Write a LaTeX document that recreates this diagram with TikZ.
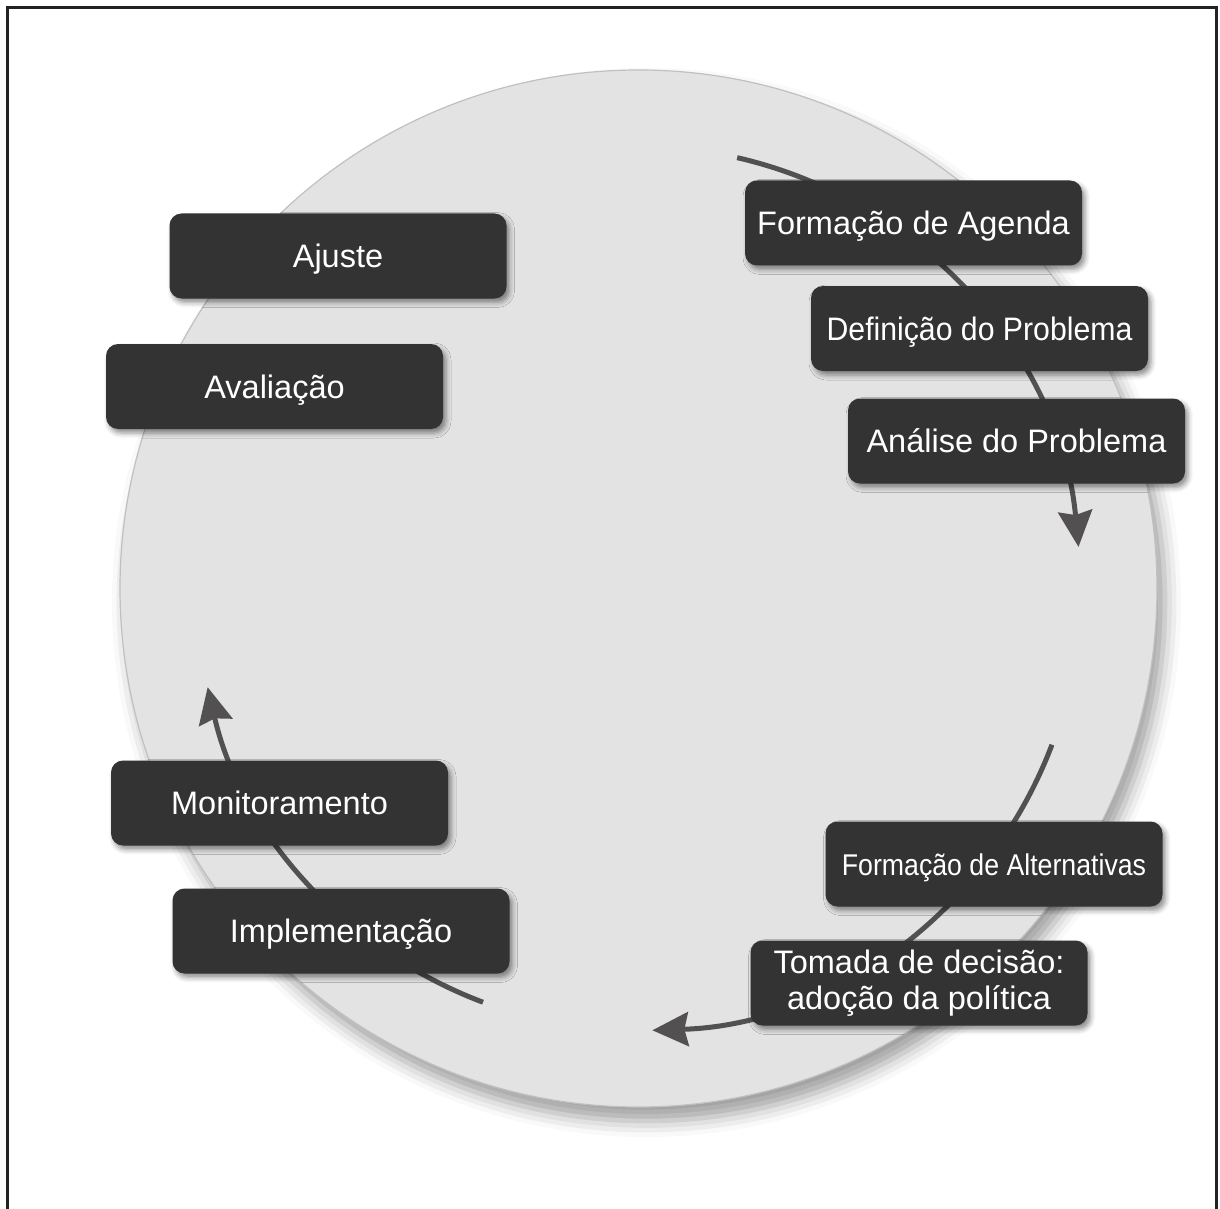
\documentclass[tikz,border=0pt]{standalone}
\usepackage{fontspec}
\setmainfont{Liberation Sans}
\usepackage{graphicx}
\usetikzlibrary{arrows.meta,shadows.blur,calc}

\definecolor{diskfill}{RGB}{227,227,227}
\definecolor{diskline}{RGB}{192,192,192}
\definecolor{boxfill}{RGB}{51,51,51}
\definecolor{flowgray}{RGB}{82,80,80}
\definecolor{framegray}{RGB}{35,35,35}

\begin{document}
\begin{tikzpicture}[x=0.5pt,y=-0.5pt,
  stage/.style={rectangle, rounded corners=6pt, fill=boxfill, text=white,
    minimum width=168.5pt, minimum height=42.5pt, inner sep=0pt, align=center,
    font=\fontsize{16.25}{18}\selectfont,
    blur shadow={shadow xshift=1.5pt, shadow yshift=-2pt,
      shadow blur radius=2.5pt, shadow opacity=45}},
  oneline/.style={stage, text height=11.6pt, text depth=0pt},
  flow/.style={draw=flowgray, line width=2.5pt,
    -{Stealth[length=18pt,width=17pt,inset=2pt]}}
]
\useasboundingbox (0,0) rectangle (1220,1209);
\clip (0,0) rectangle (1220,1209);

% outer frame (open at the bottom)
\draw[framegray, line width=1.5pt] (7,1240) -- (7,8) -- (1216,8) -- (1216,1240);

% background disk
\node (disk) [circle, fill=diskfill, draw=diskline, line width=0.6pt,
  minimum size=518.5pt, inner sep=0pt,
  blur shadow={shadow xshift=4pt, shadow yshift=-7pt,
    shadow blur radius=8pt, shadow opacity=38}] at (638.5,588.5) {};

% cycle arcs
\coordinate (flowA) at ($(disk.center)+(-77.1:442)$);
\coordinate (flowB) at ($(disk.center)+(20.7:442)$);
\coordinate (flowC) at ($(disk.center)+(110.6:442)$);
\draw[flow] (flowA) arc[start angle=-77.1, end angle=-5.4, radius=442];
\draw[flow] (flowB) arc[start angle=20.7, end angle=88.2, radius=442];
\draw[flow] (flowC) arc[start angle=110.6, end angle=167.1, radius=442];

% stages
\node[oneline] (agenda) at (913.5,223) {Formação de Agenda};
\node[oneline] (definicao) at (979.5,328.5) {\scalebox{0.93}[1]{Definição do Problema}};
\node[oneline] (analise) at (1016.5,441) {Análise do Problema};
\node[oneline] (alternativas) at (994,864)
  {\fontsize{15}{18}\selectfont\scalebox{0.89}[1]{Formação de Alternativas}};
\node[stage] (decisao) at (919,983) {Tomada de decisão:\\adoção da política};
\node[oneline] (implementacao) at (341,931) {Implementação};
\node[oneline] (monitoramento) at (279.5,803) {Monitoramento};
\node[oneline] (avaliacao) at (274.5,386.5) {Avaliação};
\node[oneline] (ajuste) at (338,256) {Ajuste};
\end{tikzpicture}
\end{document}
